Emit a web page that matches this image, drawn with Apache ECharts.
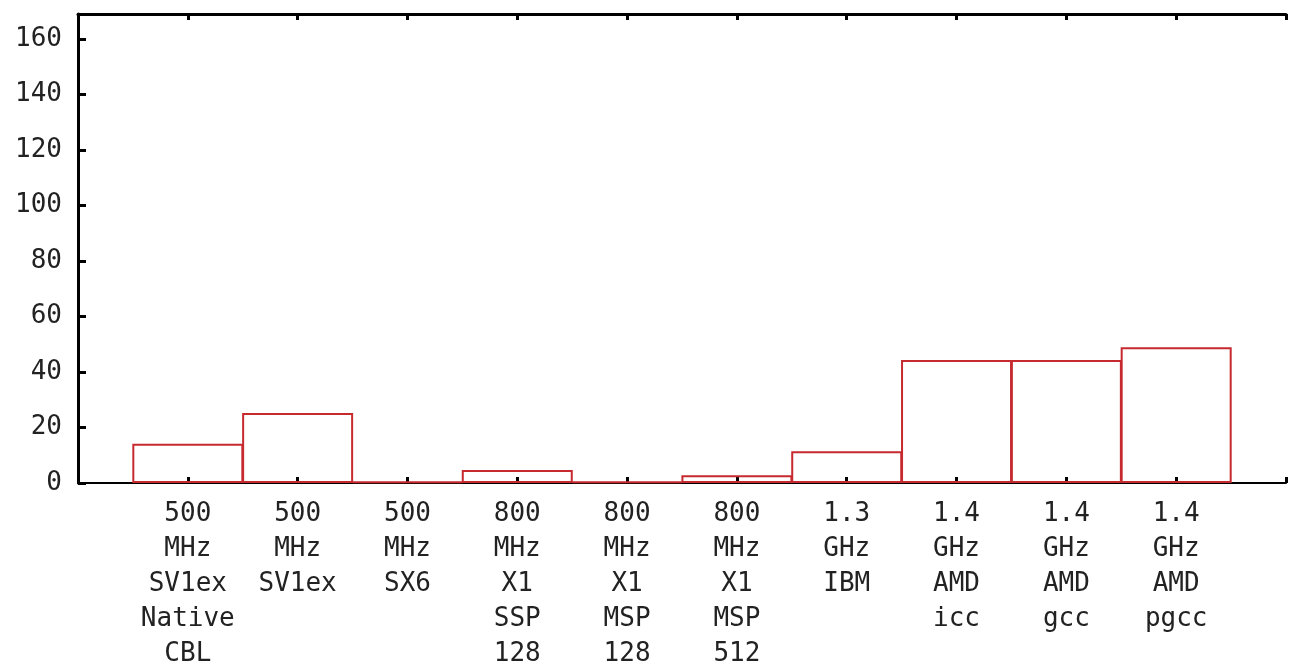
<!DOCTYPE html>
<html>
<head>
    <meta charset="utf-8">
    <title>bar chart</title>
    <style>
        html, body { margin: 0; padding: 0; background: #fff; }
        #container { width: 1289px; height: 672px; }
    </style>
</head>
<body>
<div id="container"></div>
<script src="https://cdn.jsdelivr.net/npm/echarts@6/dist/echarts.min.js"></script>
<script type="text/javascript">
    var categories = [
        '500\nMHz\nSV1ex\nNative\nCBL',
        '500\nMHz\nSV1ex',
        '500\nMHz\nSX6',
        '800\nMHz\nX1\nSSP\n128',
        '800\nMHz\nX1\nMSP\n128',
        '800\nMHz\nX1\nMSP\n512',
        '1.3\nGHz\nIBM',
        '1.4\nGHz\nAMD\nicc',
        '1.4\nGHz\nAMD\ngcc',
        '1.4\nGHz\nAMD\npgcc'
    ];
    var values = [14.1, 25.2, 0.5, 4.7, 0.5, 2.8, 11.4, 44.3, 44.3, 48.9];
    var yTicks = [0, 20, 40, 60, 80, 100, 120, 140, 160];

    var red = '#c62a2f';
    var fontMono = '"DejaVu Sans Mono", "Liberation Mono", monospace';

    var barData = [];
    for (var i = 0; i < values.length; i++) {
        barData.push([i, values[i]]);
    }

    var dom = document.getElementById('container');
    var myChart = echarts.init(dom, null, { renderer: 'canvas' });

    myChart.setOption({
        backgroundColor: '#fff',
        animation: false,
        // plot runs past the right edge of the picture, like the original
        grid: { left: 78, top: 14, width: 1226, height: 477 },
        xAxis: [{
            type: 'value',
            min: -1,
            max: 10,
            interval: 1,
            position: 'bottom',
            splitLine: { show: false },
            axisLine: { onZero: false, lineStyle: { color: '#000', width: 2 } },
            axisTick: { inside: true, length: 6, lineStyle: { color: '#000', width: 3 } },
            axisLabel: {
                margin: 14,
                color: '#222',
                fontFamily: fontMono,
                fontSize: 26,
                lineHeight: 35,
                formatter: function (v) {
                    return (v >= 0 && v < categories.length) ? categories[v] : '';
                }
            }
        }, {
            type: 'value',
            min: -1,
            max: 10,
            interval: 1,
            position: 'top',
            splitLine: { show: false },
            axisLine: { onZero: false, lineStyle: { color: '#000', width: 3 } },
            axisTick: { inside: true, length: 6, lineStyle: { color: '#000', width: 3 } },
            axisLabel: { show: false }
        }],
        yAxis: {
            type: 'value',
            min: 0,
            max: 169,
            interval: 20,
            splitLine: { show: false },
            axisLine: { show: true, onZero: false, lineStyle: { color: '#000', width: 3 } },
            axisTick: { inside: true, length: 8, lineStyle: { color: '#000', width: 3 } },
            axisLabel: {
                margin: 16,
                color: '#222',
                fontFamily: fontMono,
                fontSize: 26,
                formatter: function (v) {
                    return yTicks.indexOf(v) >= 0 ? String(v) : '';
                }
            }
        },
        series: [{
            type: 'bar',
            data: barData,
            barWidth: 111,
            itemStyle: {
                color: 'rgba(255,255,255,0)',
                borderColor: red,
                borderWidth: 2
            }
        }]
    });
</script>
</body>
</html>
